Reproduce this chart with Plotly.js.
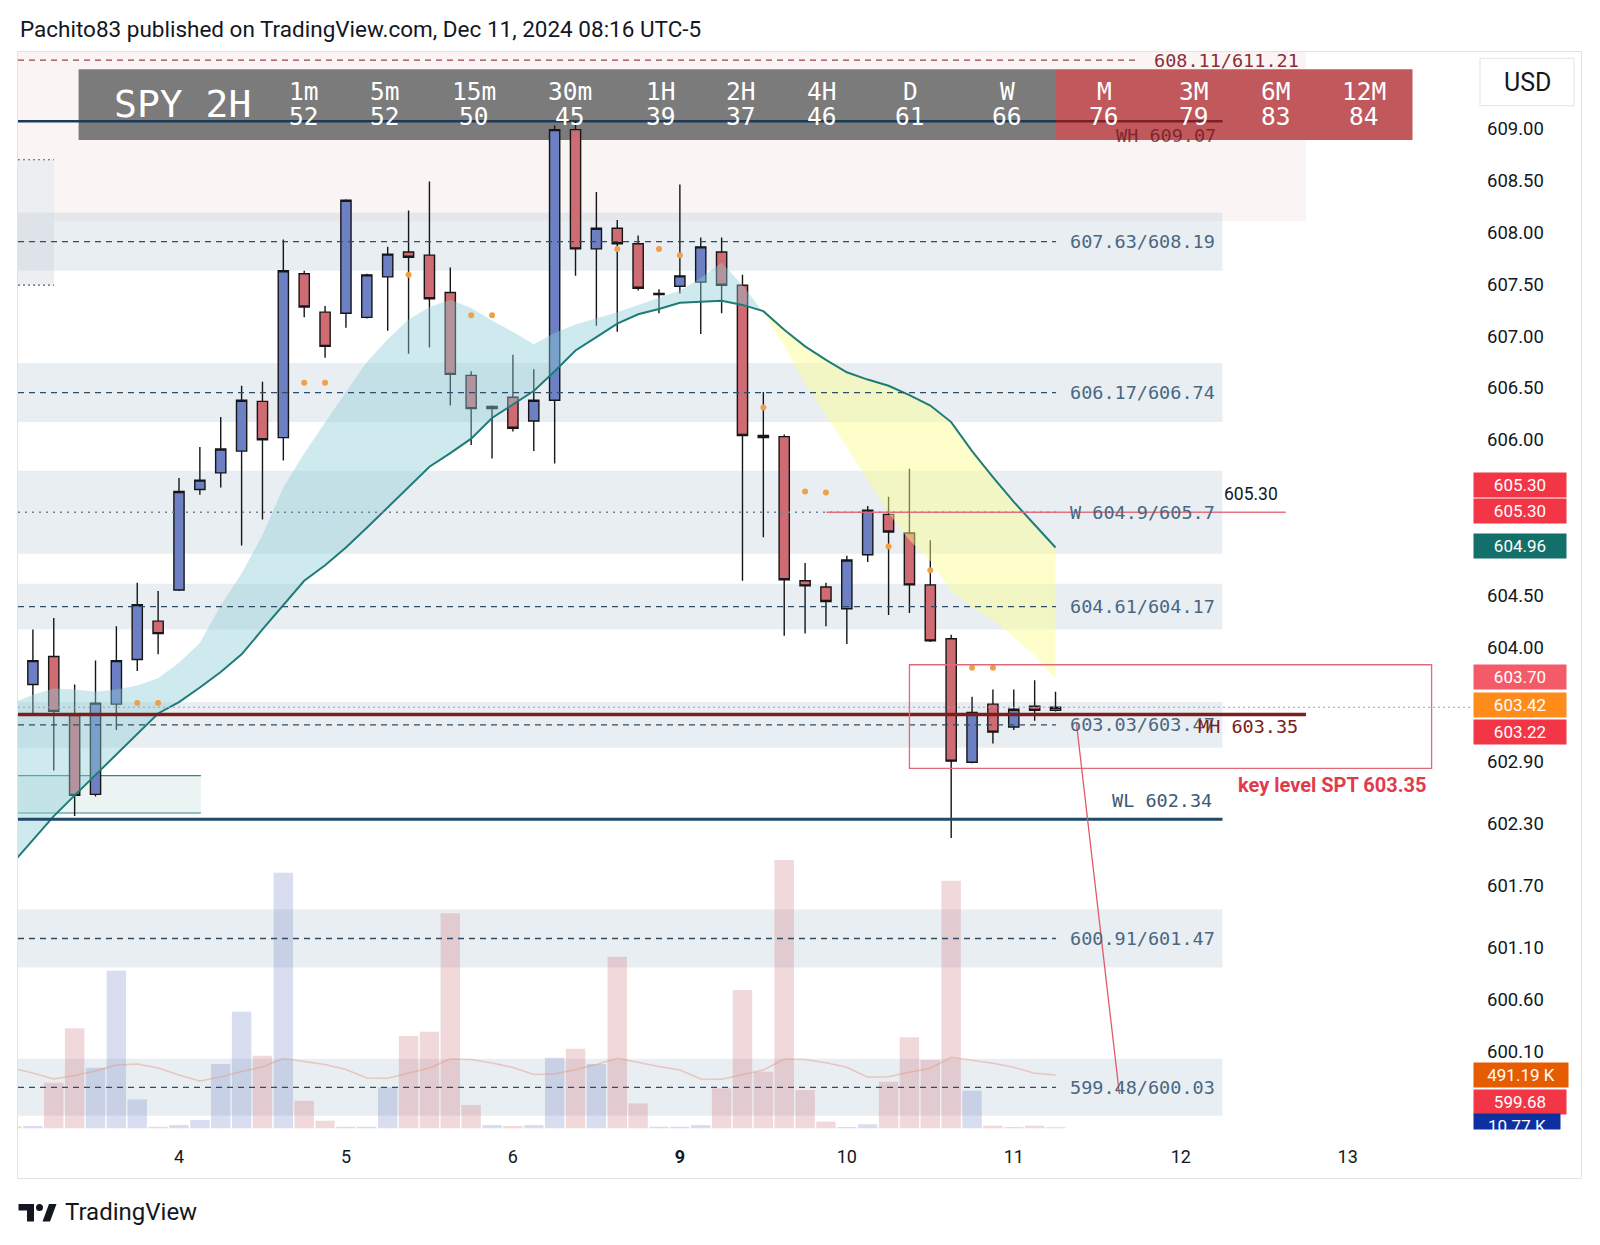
<!DOCTYPE html>
<html><head><meta charset="utf-8">
<script src="https://cdn.plot.ly/plotly-3.0.1.min.js"></script>
<style>html,body{margin:0;padding:0;background:#fff;}#chart{width:1600px;height:1245px;}</style>
</head><body><div id="chart"></div>
<script>
// ---------- DATA ----------
const barIndex = [0,1,2,3,4,5,6,7,8,9,10,11,12,13,14,15,16,17,18,19,20,21,22,23,24,25,26,27,28,29,30,31,32,33,34,35,36,37,38,39,40,41,42,43,44,45,46,47,48,49,50];
const openP  = [604.24,603.64,603.91,603.34,602.58,603.45,603.88,604.25,604.55,605.52,605.68,605.89,606.37,606.02,607.60,607.23,607.22,607.18,607.57,607.81,607.78,607.42,606.62,606.30,606.41,606.18,606.38,608.99,607.84,608.04,607.89,607.40,607.48,607.52,607.81,607.49,606.04,606.03,604.64,604.58,604.37,604.89,605.28,605.10,604.60,604.08,602.89,603.45,603.23,603.43,603.39];
const highP  = [604.26,604.17,604.28,603.64,603.87,604.20,604.62,604.54,605.63,605.93,606.22,606.52,606.56,607.93,607.63,607.29,608.32,607.60,607.86,608.21,608.49,607.66,606.66,606.33,606.82,606.68,609.03,609.07,608.39,608.12,607.97,607.45,608.46,607.95,607.95,607.59,606.46,606.05,604.81,604.62,604.88,605.36,605.45,605.72,605.03,604.12,603.52,603.59,603.59,603.68,603.57];
const lowP   = [603.50,603.34,602.81,602.37,602.56,603.20,603.77,603.93,604.54,605.47,605.54,604.98,605.23,605.80,607.18,606.79,607.08,607.17,607.05,606.83,606.89,606.33,605.95,605.82,606.08,605.89,605.77,607.58,607.10,607.04,607.44,607.22,607.41,607.02,607.22,604.64,605.06,604.11,604.13,604.20,604.03,604.82,604.31,604.33,604.05,602.16,602.88,603.07,603.20,603.29,603.38];
const closeP = [603.62,603.87,603.38,602.57,603.46,603.87,604.41,604.13,605.50,605.61,605.91,606.38,606.00,607.63,607.28,606.90,608.31,607.59,607.79,607.76,607.36,606.63,606.30,606.32,606.11,606.38,608.99,607.84,608.04,607.89,607.46,607.41,607.58,607.86,607.49,606.04,606.02,604.65,604.59,604.44,604.84,605.32,605.11,604.60,604.06,602.90,603.37,603.18,603.40,603.39,603.42];
const volumeK = [20,21,420,921,558,1452,267,15,30,76,592,1074,669,2355,254,70,15,15,378,850,890,1981,215,30,21,30,651,734,592,1581,230,15,15,30,369,1274,522,2472,353,61,12,37,429,839,629,2282,346,24,12,24,10.77];
const volumeMAK = [555.7,509.6,454.3,486.6,528,583.3,592.5,555.7,491.2,435.9,472.7,523.4,564.9,643.2,615.6,587.9,541.8,463.5,460.8,505,555.7,638.6,634,601.7,560.3,495.8,500.4,541.8,587.9,645,606.3,569.5,537.2,454.3,451.5,495.8,537.2,638.6,634,604.5,562.1,470,475.5,516,552.9,654.3,629.4,599,562.1,506.8,491.19];
const emaSlow = [601.91,602.14,602.37,602.57,602.77,602.96,603.16,603.36,603.47,603.61,603.76,603.93,604.17,604.41,604.64,604.79,604.96,605.15,605.35,605.54,605.74,605.87,606.01,606.21,606.34,606.47,606.66,606.86,606.99,607.12,607.21,607.26,607.32,607.33,607.34,607.30,607.24,607.06,606.90,606.77,606.65,606.58,606.52,606.43,606.33,606.17,605.89,605.64,605.40,605.18,604.96];
const emaFast = [603.46,603.54,603.60,603.59,603.57,603.59,603.63,603.70,603.85,604.04,604.40,604.71,605.08,605.54,605.87,606.17,606.46,606.75,606.97,607.16,607.28,607.35,607.27,607.15,607.04,606.92,607.03,607.11,607.17,607.23,607.30,607.37,607.44,607.56,607.71,607.49,607.23,606.91,606.54,606.24,605.93,605.61,605.29,605.03,604.83,604.54,604.39,604.26,604.10,603.92,603.70];
const crossIndex = 36;
const signalIdx   = [6,7,14,15,19,22,23,29,31,32,36,38,39,42,44,46,47];
const signalPrice = [603.46,603.46,606.55,606.55,607.59,607.20,607.20,607.84,607.84,607.78,606.31,605.50,605.49,604.97,604.74,603.80,603.80];
const zoneLow   = [607.63,606.17,604.9,604.17,603.03,600.91,599.48];
const zoneHigh  = [608.19,606.74,605.7,604.61,603.47,601.47,600.03];
const zoneText  = ['607.63/608.19','606.17/606.74','W 604.9/605.7','604.61/604.17','603.03/603.47','600.91/601.47','599.48/600.03'];
const upperZone = [608.11, 611.21];
const upperZoneText = '608.11/611.21';
const weekHigh = 609.07, monthHigh = 603.35, weekLow = 602.34, markLevel = 605.30;
const keyBoxLow = 602.83, keyBoxHigh = 603.83;
const arrowFrom = [51.0, 603.27], arrowTo = [53.06, 599.69];
const demandLow = 602.40, demandHigh = 602.76;
const topLeftLow = 607.49, topLeftHigh = 608.70;
const tfNames  = ['1m','5m','15m','30m','1H','2H','4H','D','W','M','3M','6M','12M'];
const tfScores = ['52','52','50','45','39','37','46','61','66','76','79','83','84'];
const priceTicks = [609.00,608.50,608.00,607.50,607.00,606.50,606.00,604.50,604.00,602.90,602.30,601.70,601.10,600.60,600.10];
const dayTickIdx  = [8,16,24,32,40,48,56,64];
const dayTickText = ['4','5','6','<b>9</b>','10','11','12','13'];
const tagText   = ['605.30','605.30','604.96','603.70','603.42','603.22','491.19 K','599.68','10.77 K'];
const tagValue  = [605.30,605.30,604.96,603.70,603.42,603.22,491.19,599.68,10.77];

// ---------- LAYOUT HELPERS ----------
const W=1600,H=1245,L=18,R=1470,T=52,B=1130;
const px = x => (x-L)/(R-L);
const py = y => (B-y)/(B-T);
const xRange=[0.286,69.86], yRange=[599.343,609.739];
const X0 = xRange[0];
// pixel -> data helpers for the overlay panel drawn inside the pane
const kx = x => xRange[0] + (x-L)/(R-L)*(xRange[1]-xRange[0]);
const pyv = y => yRange[1] - (y-T)/(B-T)*(yRange[1]-yRange[0]);
const mono = 'DejaVu Sans Mono, monospace';
const sans = 'Roboto, Noto Sans, sans-serif';
const BLUE='#6d80c4', RED='#cf6b73';

const traces = [];
traces.push({type:'bar', x:barIndex, y:volumeK, yaxis:'y2', width:0.93,
  marker:{color:barIndex.map(i=>closeP[i]>=openP[i]?'rgba(110,130,200,0.27)':'rgba(205,110,118,0.27)'), line:{width:0}},
  hoverinfo:'skip', showlegend:false});
traces.push({type:'scatter', mode:'lines', x:barIndex, y:volumeMAK, yaxis:'y2',
  line:{color:'rgba(228,150,120,0.45)', width:1.5}, hoverinfo:'skip', showlegend:false});
const iA = barIndex.slice(0, crossIndex+1), iB = barIndex.slice(crossIndex);
traces.push({type:'scatter', mode:'lines', x:iA, y:iA.map(i=>emaSlow[i]), line:{width:0}, hoverinfo:'skip', showlegend:false});
traces.push({type:'scatter', mode:'lines', x:iA, y:iA.map(i=>emaFast[i]), line:{width:0}, fill:'tonexty', fillcolor:'rgba(140,205,215,0.42)', hoverinfo:'skip', showlegend:false});
traces.push({type:'scatter', mode:'lines', x:iB, y:iB.map(i=>emaSlow[i]), line:{width:0}, hoverinfo:'skip', showlegend:false});
traces.push({type:'scatter', mode:'lines', x:iB, y:iB.map(i=>emaFast[i]), line:{width:0}, fill:'tonexty', fillcolor:'rgba(252,252,140,0.45)', hoverinfo:'skip', showlegend:false});
traces.push({type:'scatter', mode:'lines', x:barIndex, y:emaSlow, line:{color:'#1d7c77', width:2}, hoverinfo:'skip', showlegend:false});
traces.push({type:'candlestick', x:barIndex, open:openP, high:highP, low:lowP, close:closeP,
  increasing:{line:{color:'#161616', width:1.4}, fillcolor:BLUE},
  decreasing:{line:{color:'#161616', width:1.4}, fillcolor:RED},
  whiskerwidth:0, hoverinfo:'none', showlegend:false});
traces.push({type:'scatter', mode:'markers', x:signalIdx, y:signalPrice,
  marker:{color:'#f0a048', size:6}, hoverinfo:'skip', showlegend:false});

const shapes = [];
shapes.push({type:'rect', xref:'paper', yref:'paper', x0:px(17.5), x1:px(1581.5), y0:py(1178.6), y1:py(51.5), line:{color:'#e0e3eb', width:1}, layer:'below'});
shapes.push({type:'rect', xref:'x', yref:'y', x0:X0, x1:62, y0:upperZone[0], y1:upperZone[1], fillcolor:'#fbf4f4', line:{width:0}, layer:'below'});
shapes.push({type:'rect', xref:'x', yref:'y', x0:X0, x1:2.01, y0:topLeftLow, y1:topLeftHigh, fillcolor:'#eceef1', line:{width:0}, layer:'below'});
[topLeftLow, topLeftHigh].forEach(v=>shapes.push({type:'line', xref:'x', yref:'y', x0:X0, x1:2.01, y0:v, y1:v, line:{color:'#55606e', width:1.2, dash:'2px,3px'}, layer:'below'}));
zoneLow.forEach((lo,i)=>{
  shapes.push({type:'rect', xref:'x', yref:'y', x0:X0, x1:58, y0:lo, y1:zoneHigh[i], fillcolor:'rgba(196,210,222,0.38)', line:{width:0}, layer:'below'});
});
shapes.push({type:'rect', xref:'x', yref:'y', x0:X0, x1:9.05, y0:demandLow, y1:demandHigh, fillcolor:'rgba(200,222,222,0.35)', line:{width:0}, layer:'below'});
[demandLow, demandHigh].forEach(v=>shapes.push({type:'line', xref:'x', yref:'y', x0:X0, x1:9.05, y0:v, y1:v, line:{color:'#2b8a87', width:1.2}, layer:'below'}));
// header panel (inside the pane, drawn over the zones)
shapes.push({type:'rect', xref:'x', yref:'y', x0:kx(78.6), x1:kx(1056), y0:pyv(140), y1:pyv(69.3), fillcolor:'#7b7b7b', line:{width:0}, layer:'below'});
shapes.push({type:'rect', xref:'x', yref:'y', x0:kx(1056), x1:kx(1412.5), y0:pyv(140), y1:pyv(69.3), fillcolor:'#c0585c', line:{width:0}, layer:'below'});
shapes.push({type:'line', xref:'x', yref:'y', x0:X0, x1:50.02, y0:weekHigh, y1:weekHigh, line:{color:'#1d3a57', width:2.5}, layer:'below'});
shapes.push({type:'line', xref:'x', yref:'y', x0:50.02, x1:58, y0:weekHigh, y1:weekHigh, line:{color:'#7a2228', width:2.5}, layer:'below'});
shapes.push({type:'line', xref:'x', yref:'y', x0:X0, x1:54, y0:(upperZone[0]+upperZone[1])/2, y1:(upperZone[0]+upperZone[1])/2, line:{color:'#a04048', width:1.3, dash:'6px,5px'}});
zoneLow.forEach((lo,i)=>{
  const m=(lo+zoneHigh[i])/2, dotted = zoneText[i].startsWith('W');
  shapes.push({type:'line', xref:'x', yref:'y', x0:X0, x1:50.02, y0:m, y1:m,
    line:{color: dotted?'#6d8196':'#2f4d66', width: dotted?1.5:1.3, dash: dotted?'2px,5px':'6px,5px'}});
});
shapes.push({type:'line', xref:'x', yref:'y', x0:X0, x1:xRange[1], y0:closeP[closeP.length-1], y1:closeP[closeP.length-1], line:{color:'#9aa3ad', width:1.2, dash:'2px,3px'}});
shapes.push({type:'line', xref:'x', yref:'y', x0:X0, x1:58, y0:weekLow, y1:weekLow, line:{color:'#1f4a68', width:3}});
shapes.push({type:'line', xref:'x', yref:'y', x0:X0, x1:62, y0:monthHigh, y1:monthHigh, line:{color:'#7b1e1e', width:3.5}});
shapes.push({type:'line', xref:'x', yref:'y', x0:39.02, x1:61.03, y0:markLevel, y1:markLevel, line:{color:'rgba(228,100,115,0.9)', width:1.5}});
shapes.push({type:'rect', xref:'x', yref:'y', x0:43.0, x1:68.02, y0:keyBoxLow, y1:keyBoxHigh, line:{color:'#e06a78', width:1.3}});
shapes.push({type:'line', xref:'x', yref:'y', x0:arrowFrom[0], x1:arrowTo[0], y0:arrowFrom[1], y1:arrowTo[1], line:{color:'#e05a6a', width:1.3}});
shapes.push({type:'rect', xref:'paper', yref:'paper', x0:px(1480), x1:px(1574), y0:py(105.7), y1:py(58.3), line:{color:'#e6e8ee', width:1.2}, fillcolor:'#ffffff', layer:'below'});
const P=(x,y)=>px(x)+','+py(y);
shapes.push({type:'path', xref:'paper', yref:'paper', path:'M'+P(18.5,1204)+' L'+P(34,1204)+' L'+P(34,1221.5)+' L'+P(27,1221.5)+' L'+P(27,1210.5)+' L'+P(18.5,1210.5)+' Z', fillcolor:'#131722', line:{width:0}});
shapes.push({type:'circle', xref:'paper', yref:'paper', x0:px(36), x1:px(43), y0:py(1211), y1:py(1204), fillcolor:'#131722', line:{width:0}});
shapes.push({type:'path', xref:'paper', yref:'paper', path:'M'+P(42.5,1221.5)+' L'+P(49,1204)+' L'+P(56.5,1204)+' L'+P(50,1221.5)+' Z', fillcolor:'#131722', line:{width:0}});

const ann = [];
ann.push({xref:'paper', yref:'paper', x:px(18.4), y:py(29), xanchor:'left', yanchor:'middle', showarrow:false,
  text:'Pachito83 published on TradingView.com, Dec 11, 2024 08:16 UTC-5', font:{family:sans, size:22.5, color:'#131722'}});
ann.push({xref:'paper', yref:'paper', x:px(63), y:py(1212), xanchor:'left', yanchor:'middle', showarrow:false,
  text:'TradingView', font:{family:sans, size:24, color:'#131722'}});
ann.push({xref:'paper', yref:'paper', x:px(182), y:py(104), xanchor:'center', yanchor:'middle', showarrow:false,
  text:'SPY 2H', font:{family:mono, size:38, color:'#ffffff'}});
const tfX = [303.6,385,474.3,570,661,741.4,821.8,910,1007.5,1104.3,1194.3,1275.7,1364.3];
tfNames.forEach((n,i)=>{
  ann.push({xref:'paper', yref:'paper', x:px(tfX[i]), y:py(91.7), xanchor:'center', yanchor:'middle', showarrow:false, text:n, font:{family:mono, size:24.5, color:'#ffffff'}});
  ann.push({xref:'paper', yref:'paper', x:px(tfX[i]), y:py(116.7), xanchor:'center', yanchor:'middle', showarrow:false, text:tfScores[i], font:{family:mono, size:24.5, color:'#ffffff'}});
});
zoneLow.forEach((lo,i)=>{
  ann.push({xref:'x', yref:'y', x:50.6, y:(lo+zoneHigh[i])/2, xanchor:'left', yanchor:'middle', showarrow:false,
    text:zoneText[i], font:{family:mono, size:18.5, color:'#4a6782'}});
});
ann.push({xref:'x', yref:'y', x:54.6, y:(upperZone[0]+upperZone[1])/2, xanchor:'left', yanchor:'middle', showarrow:false,
  text:upperZoneText, font:{family:mono, size:18.5, color:'#8b2f35'}});
ann.push({xref:'x', yref:'y', x:52.8, y:weekHigh, yshift:-14, xanchor:'left', yanchor:'middle', showarrow:false,
  text:'WH '+weekHigh.toFixed(2), font:{family:mono, size:18.5, color:'rgba(110,25,30,0.8)'}});
ann.push({xref:'x', yref:'y', x:56.73, y:monthHigh, yshift:-12, xanchor:'left', yanchor:'middle', showarrow:false,
  text:'MH '+monthHigh.toFixed(2), font:{family:mono, size:18.5, color:'#7a2020'}});
ann.push({xref:'x', yref:'y', x:57.6, y:weekLow, yshift:19, xanchor:'right', yanchor:'middle', showarrow:false,
  text:'WL '+weekLow.toFixed(2), font:{family:mono, size:18.5, color:'#3c5a72'}});
ann.push({xref:'x', yref:'y', x:58.0, y:markLevel, yshift:18, xanchor:'left', yanchor:'middle', showarrow:false,
  text:markLevel.toFixed(2), font:{family:sans, size:17.5, color:'#131722'}});
ann.push({xref:'x', yref:'y', x:58.63, y:keyBoxLow, yshift:-17, xanchor:'left', yanchor:'middle', showarrow:false,
  text:'<b>key level SPT '+monthHigh.toFixed(2)+'</b>', font:{family:sans, size:20, color:'#e23b4c'}});
ann.push({xref:'paper', yref:'paper', x:px(1527), y:py(82.5), xanchor:'center', yanchor:'middle', showarrow:false,
  text:'USD', font:{family:sans, size:25, color:'#131722'}});
const tagColor = ['#f23645','#f23645','#136f6a','#f45b69','#ff8c1a','#f23645','#e65c00','#f23645','#0d2fa0'];
const tagShift = [27,1,1.5,1.7,2,-3.6,-0.5,-7,1.4];
const tagAxis  = ['y','y','y','y','y','y','y2','y','y2'];
tagText.forEach((t,i)=>{
  ann.push({xref:'paper', yref:tagAxis[i], x:px(1472.5), y:tagValue[i], yshift:tagShift[i], xanchor:'left', yanchor:'middle', showarrow:false,
    text:t, width: t.includes('K')?(i===6?94:86):92, height:24, borderpad:0, bgcolor:tagColor[i], align:'center',
    font:{family:sans, size:17, color:'#ffffff'}});
});
ann.push({xref:'paper', yref:'paper', x:px(1468), y:py(1129), xanchor:'left', yanchor:'top', showarrow:false,
  text:' ', width:110, height:24, bgcolor:'#ffffff', borderpad:0});

const layout = {
  width:W, height:H, autosize:false,
  margin:{l:L, r:W-R, t:T, b:H-B, pad:0},
  paper_bgcolor:'#ffffff', plot_bgcolor:'#ffffff',
  showlegend:false, dragmode:false,
  xaxis:{range:xRange, tickvals:dayTickIdx, ticktext:dayTickText, showgrid:false, zeroline:false, showline:false, ticks:'',
    tickfont:{family:sans, size:18, color:'#131722'}, rangeslider:{visible:false}, ticklabelstandoff:14, fixedrange:true},
  yaxis:{range:yRange, side:'right', tickvals:priceTicks, ticktext:priceTicks.map(v=>v.toFixed(2)), showgrid:false, zeroline:false,
    showline:false, ticks:'', tickfont:{family:sans, size:18.5, color:'#131722'}, ticklabelstandoff:16, fixedrange:true},
  yaxis2:{overlaying:'y', range:[-15.7, 9918], visible:false, fixedrange:true},
  shapes:shapes, annotations:ann
};
Plotly.newPlot('chart', traces, layout, {staticPlot:true, displayModeBar:false});
</script></body></html>
